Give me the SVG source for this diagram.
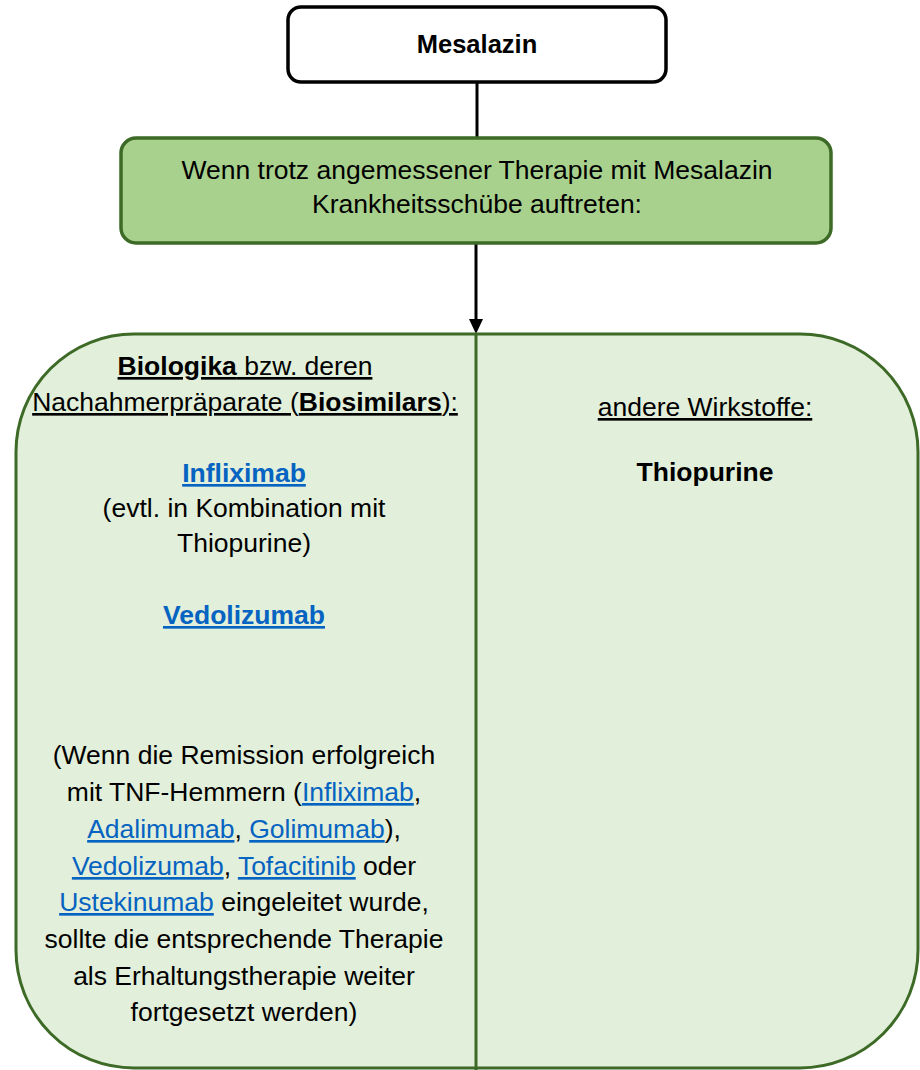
<svg xmlns="http://www.w3.org/2000/svg" width="920" height="1070" viewBox="0 0 920 1070">
<defs>
<style>
text{font-family:"Liberation Sans",Arial,sans-serif;fill:#000;text-anchor:middle}
.t{font-size:26.5px}
.b{font-weight:bold}
.u{text-decoration:underline}
.l{fill:#0563c1;text-decoration:underline}
</style>
</defs>
<rect x="0" y="0" width="920" height="1070" fill="#fff"/>
<g id="connectors">
<line x1="477" y1="82" x2="477" y2="138" stroke="#000" stroke-width="3"/>
<line x1="476" y1="244" x2="476" y2="320" stroke="#000" stroke-width="3"/>
<path d="M469,319 L483,319 L476,334 z" fill="#000"/>
</g>
<g id="mesalazin">
<rect x="288" y="7" width="378" height="75" rx="13" fill="#fff" stroke="#000" stroke-width="3.5"/>
<text x="477" y="53" class="b" font-size="25.5">Mesalazin</text>
</g>
<g id="condition">
<rect x="121" y="138" width="710" height="105" rx="15" fill="#a9d18e" stroke="#3d6a26" stroke-width="3.5"/>
<text x="477" y="179" class="t">Wenn trotz angemessener Therapie mit Mesalazin</text>
<text x="477" y="213" class="t">Krankheitsschübe auftreten:</text>
</g>
<g id="options">
<rect x="16" y="334" width="902" height="734" rx="118" ry="118" fill="#e2efda" stroke="#3d6a26" stroke-width="3"/>
<line x1="476" y1="334" x2="476" y2="1070" stroke="#3d6a26" stroke-width="3"/>
</g>
<g id="biologika">
<text x="245" y="375" class="t u"><tspan class="b">Biologika</tspan> bzw. deren</text>
<text x="245" y="411" class="t u">Nachahmerpräparate (<tspan class="b">Biosimilars</tspan>):</text>
<text x="244" y="482" class="t b l">Infliximab</text>
<text x="244" y="517" class="t">(evtl. in Kombination mit</text>
<text x="244" y="552" class="t">Thiopurine)</text>
<text x="244" y="624" class="t b l">Vedolizumab</text>
<text x="244" y="764" class="t">(Wenn die Remission erfolgreich</text>
<text x="244" y="801" class="t">mit TNF-Hemmern (<tspan class="l">Infliximab</tspan>,</text>
<text x="244" y="838" class="t"><tspan class="l">Adalimumab</tspan>, <tspan class="l">Golimumab</tspan>),</text>
<text x="244" y="875" class="t"><tspan class="l">Vedolizumab</tspan>, <tspan class="l">Tofacitinib</tspan> oder</text>
<text x="244" y="911" class="t"><tspan class="l">Ustekinumab</tspan> eingeleitet wurde,</text>
<text x="244" y="948" class="t">sollte die entsprechende Therapie</text>
<text x="244" y="985" class="t">als Erhaltungstherapie weiter</text>
<text x="244" y="1021" class="t">fortgesetzt werden)</text>
</g>
<g id="andere">
<text x="705" y="416" class="t u">andere Wirkstoffe:</text>
<text x="705" y="481" class="t b">Thiopurine</text>
</g>
</svg>
